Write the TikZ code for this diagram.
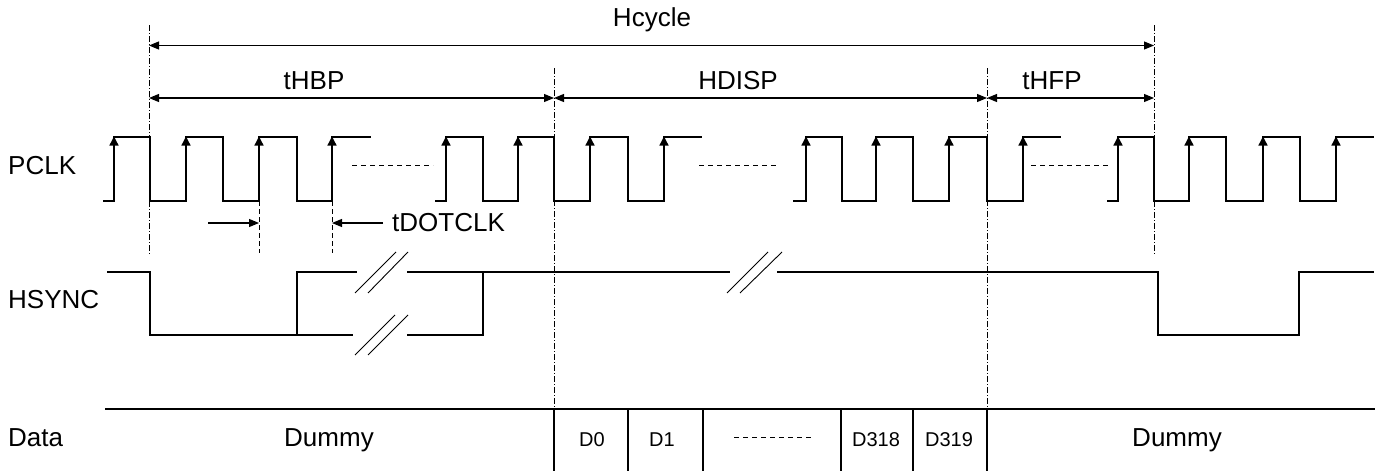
\documentclass[tikz,border=0pt]{standalone}
\usepackage{fontspec}
\setmainfont{Liberation Sans}
\usetikzlibrary{arrows.meta}
\begin{document}
\begin{tikzpicture}[x=1pt,y=-1pt,
  wave/.style={line width=1.3pt,line join=miter},
  thin/.style={line width=0.9pt},
  guide/.style={line width=0.9pt,dash pattern=on 6pt off 2pt on 1pt off 2pt},
  dguide/.style={line width=0.9pt,dash pattern=on 5pt off 3pt},
  dots/.style={line width=0.9pt,dash pattern=on 5pt off 4pt},
  dim/.style={line width=1.1pt,{Triangle[length=10pt,width=8pt]}-{Triangle[length=10pt,width=8pt]}},
  oneway/.style={line width=1.1pt,-{Triangle[length=10pt,width=8pt]}},
  edge/.style={line width=1.3pt,-{Triangle[length=9pt,width=9pt]}},
  big/.style={font=\fontsize{26}{30}\selectfont,inner sep=0pt},
  small/.style={font=\fontsize{20}{24}\selectfont,inner sep=0pt}]
\useasboundingbox (0,0) rectangle (1385,471);
\fill[white] (0,0) rectangle (1385,471);

% guide lines
\coordinate (g0t) at (149,25);  \coordinate (g0b) at (149,255);
\coordinate (g1t) at (554,68);  \coordinate (g1b) at (554,409);
\coordinate (g2t) at (987,68);  \coordinate (g2b) at (987,409);
\coordinate (g3t) at (1154,25); \coordinate (g3b) at (1154,255);
\draw[guide] (g0t) -- (g0b);
\draw[guide] (g1t) -- (g1b);
\draw[guide] (g2t) -- (g2b);
\draw[guide] (g3t) -- (g3b);

% dimension arrows
\coordinate (hc0) at (149,45.5); \coordinate (hc1) at (1154,45.5);
\coordinate (d0) at (149,98); \coordinate (d1) at (554,98);
\coordinate (d2) at (987,98); \coordinate (d3) at (1154,98);
\draw[dim] (hc0) -- (hc1);
\draw[dim] (d0) -- (d1);
\draw[dim] (d1) -- (d2);
\draw[dim] (d2) -- (d3);
\node[big] (lhc) at (652,20) {Hcycle};
\node[big] (lhbp) at (314,81) {tHBP};
\node[big] (lhd) at (738,81) {HDISP};
\node[big] (lhfp) at (1052,81) {tHFP};

% signal names
\node[big,anchor=west] (lpclk) at (8,166) {PCLK};
\node[big,anchor=west] (lhs) at (8,300) {HSYNC};
\node[big,anchor=west] (ldata) at (8,438) {Data};

% PCLK
\draw[wave] (103,201)-|(114,137)-|(150,201)-|(186,137)-|(223,201)-|(259,137)-|(297,201)-|(332,137)--(371,137);
\draw[wave] (435,201)-|(446,137)-|(483,201)-|(518,137)-|(554,201)-|(590,137)-|(628,201)-|(664,137)--(702,137);
\draw[wave] (793,201)-|(806,137)-|(842,201)-|(876,137)-|(913,201)-|(949,137)-|(987,201)-|(1023,137)--(1061,137);
\draw[wave] (1107,201)-|(1118,137)-|(1154,201)-|(1189,137)-|(1226,201)-|(1263,137)-|(1300,201)-|(1336,137)--(1374,137);
\foreach \x in {114,186,259,332,446,518,590,664,806,876,949,1023,1118,1189,1263,1336}
  \draw[edge] (\x,175) -- (\x,136.5);
\draw[dots] (352,165) -- (433,165);
\draw[dots] (699,165) -- (779,165);
\draw[dots] (1031,165) -- (1111,165);

% tDOTCLK
\coordinate (t0t) at (259,201); \coordinate (t0b) at (259,253);
\coordinate (t1t) at (332,201); \coordinate (t1b) at (332,253);
\draw[dguide] (t0t) -- (t0b);
\draw[dguide] (t1t) -- (t1b);
\coordinate (ta0) at (208,223); \coordinate (ta1) at (259,223);
\coordinate (tb0) at (383,223); \coordinate (tb1) at (332,223);
\draw[oneway] (ta0) -- (ta1);
\draw[oneway] (tb0) -- (tb1);
\node[big,anchor=west] (ldot) at (392,223) {tDOTCLK};

% HSYNC
\draw[wave] (107,272) -| (150,335) -| (297,272) -- (357,272);
\draw[wave] (297,335) -- (353,335);
\draw[wave] (407,335) -| (483,272);
\draw[wave] (407,272) -- (730,272);
\draw[wave] (777,272) -| (1158,335) -| (1299,272) -- (1374,272);
\draw[thin] (355,293) -- (396,252);
\draw[thin] (368,293) -- (408,252);
\draw[thin] (355,355) -- (395,315);
\draw[thin] (368,355) -- (408,315);
\draw[thin] (727,293) -- (768,252);
\draw[thin] (740,293) -- (782,252);

% Data
\draw[wave] (105,409) -- (1375,409);
\foreach \x in {554,628,703,841,913,987}
  \draw[wave] (\x,409) -- (\x,471);
\node[big] (dm0) at (329,440) {Dummy};
\node[small] (dd0) at (592,440) {D0};
\node[small] (dd1) at (662,440) {D1};
\draw[dots] (734,437) -- (814,437);
\node[small] (dd318) at (876,440) {D318};
\node[small] (dd319) at (949,440) {D319};
\node[big] (dm1) at (1177,440) {Dummy};
\end{tikzpicture}
\end{document}
